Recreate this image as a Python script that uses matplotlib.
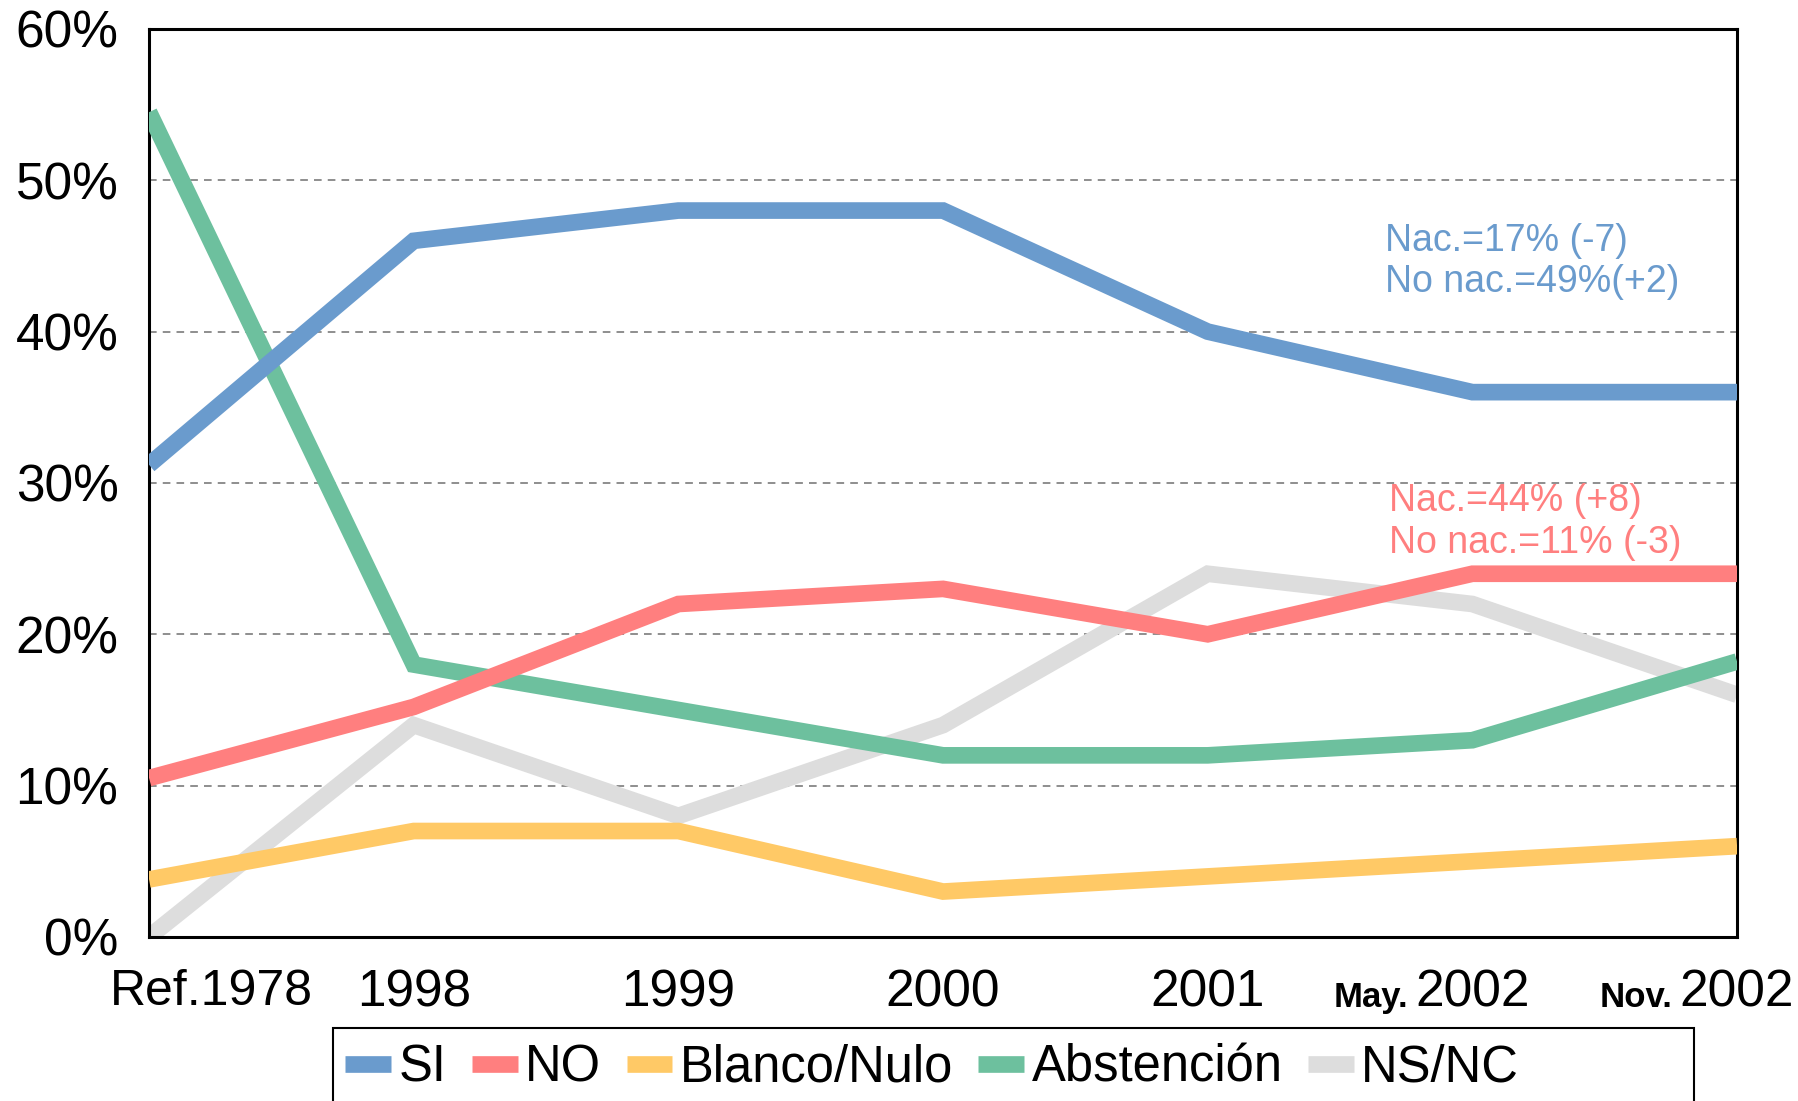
import numpy as np
import matplotlib
matplotlib.use("Agg")
import matplotlib.pyplot as plt
import matplotlib.transforms as mtransforms
from matplotlib.patches import Rectangle

plt.rcParams['font.family'] = ['Liberation Sans', 'DejaVu Sans']

# Data (percent)
periods = ["Ref.1978", "1998", "1999", "2000", "2001", "2002", "2002"]
period_prefix = ["", "", "", "", "", "May.", "Nov."]
si = [31.2, 46, 48, 48, 40, 36, 36]
no = [10.5, 15.2, 22, 23, 20, 24, 24]
blanco = [3.8, 7, 7, 3, 4, 5, 6]
abstencion = [54.5, 18, 15, 12, 12, 13, 18.2]
nsnc = [0, 14, 8, 14, 24, 22, 16]

series = ["SI", "NO", "Blanco/Nulo", "Abstención", "NS/NC"]
colors = ["#6A9BCD", "#FF7F7F", "#FFC966", "#6DC09E", "#DDDDDD"]
values = [si, no, blanco, abstencion, nsnc]
zorders = [5, 4, 3, 3.5, 2]

fig = plt.figure(figsize=(17.98, 11.01), dpi=100)
ax = fig.add_axes([0.0829, 0.1490, 0.9661 - 0.0829, 0.9737 - 0.1490])

x = np.arange(len(periods))
lines = []
for name, col, vals, z in zip(series, colors, values, zorders):
    ln, = ax.plot(x, vals, color=col, lw=12, label=name, zorder=z,
                  solid_joinstyle='miter', solid_capstyle='butt')
    lines.append(ln)

ax.set_xlim(0, len(periods) - 1)
ax.set_ylim(0, 60)
ax.set_yticks(np.arange(0, 61, 10))
ax.set_yticklabels([f"{v}%" for v in range(0, 61, 10)])
ax.set_xticks(x)
ax.set_xticklabels(periods)
ax.tick_params(axis='both', length=0, labelsize=37)
ax.tick_params(axis='x', pad=23)
ax.tick_params(axis='y', pad=22)

# shift the first label right like the original
lab0 = ax.get_xticklabels()[0]
lab0.set_fontsize(36)
lab0.set_transform(lab0.get_transform() + mtransforms.ScaledTranslation(62 / 100, 0, fig.dpi_scale_trans))

# bold prefixes for the 2002 surveys
fig.canvas.draw()
ticklabels = ax.get_xticklabels()
for i, pre in enumerate(period_prefix):
    if pre:
        ax.annotate(pre, xy=(0, 0), xycoords=ticklabels[i],
                    xytext=(-5, 8), textcoords='offset points',
                    ha='right', va='baseline', fontsize=25, fontweight='bold')

for yv in range(10, 60, 10):
    ax.axhline(yv, color='#707070', lw=1.1, ls=(0, (5, 4)), zorder=1)

for sp in ax.spines.values():
    sp.set_linewidth(2.2)
    sp.set_color('black')

# annotations
ax.text(4.67, 47.2, "Nac.=17% (-7)\nNo nac.=49%(+2)", color="#6A9BCD",
        fontsize=27, va='top', ha='left', linespacing=1.2)
ax.text(4.685, 30.0, "Nac.=44% (+8)\nNo nac.=11% (-3)", color="#FF7F7F",
        fontsize=27, va='top', ha='left', linespacing=1.2)

# legend box
fig.patches.append(Rectangle((333 / 1798, -0.02), (1694 - 333) / 1798, 0.0663 + 0.02,
                             transform=fig.transFigure, fill=False,
                             edgecolor='black', lw=1.5))
leg = fig.legend(handles=lines, loc='center left',
                 bbox_to_anchor=(310 / 1798, 1 - 1068 / 1101),
                 ncol=5, frameon=False, fontsize=36.5,
                 handlelength=0.9, handletextpad=0.15, columnspacing=0.5,
                 borderpad=0.2)

fig.savefig("out.png", dpi=100)
